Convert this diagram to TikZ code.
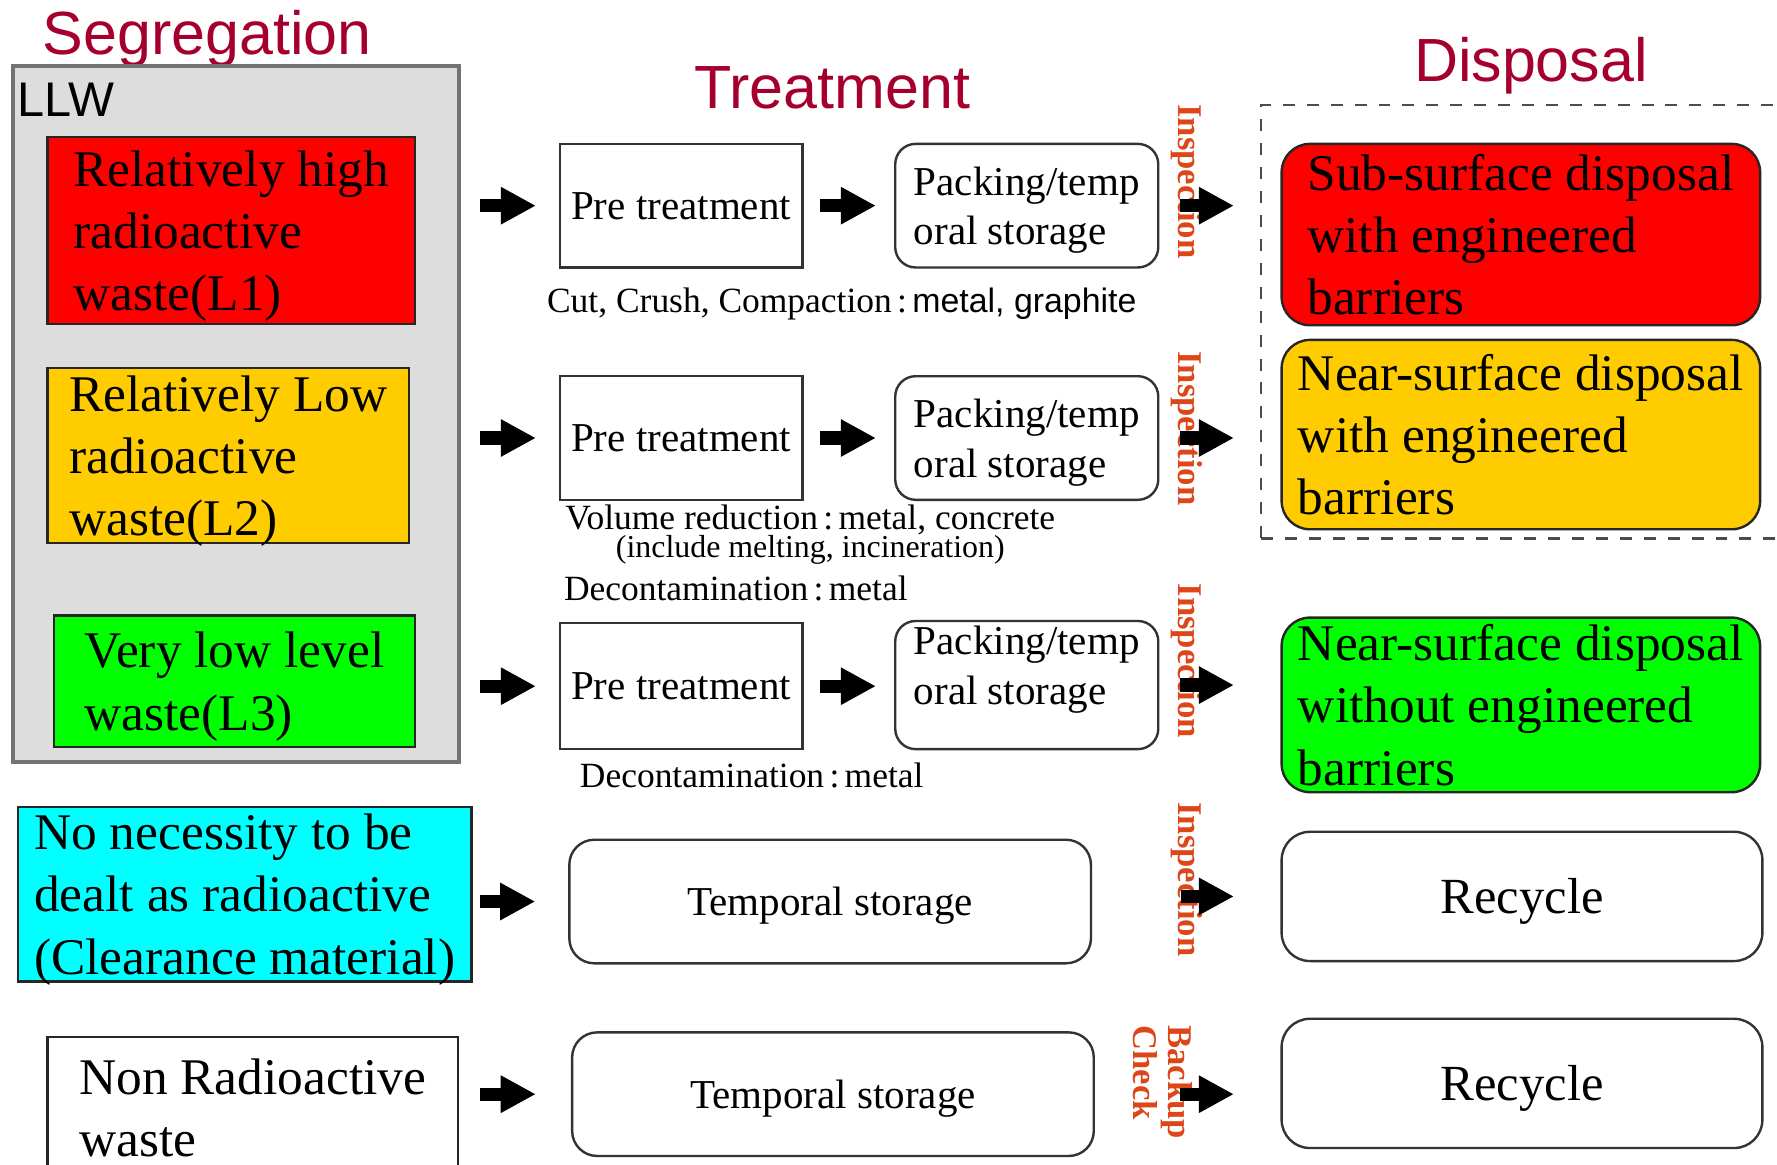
\documentclass[tikz,border=0pt]{standalone}
\usepackage{fontspec}
\setmainfont{Liberation Serif}
\setsansfont{Liberation Sans}
\usetikzlibrary{arrows.meta}

\definecolor{titlered}{RGB}{165,0,45}
\definecolor{inspred}{RGB}{220,70,25}
\definecolor{l1red}{RGB}{255,0,0}
\definecolor{l2yellow}{RGB}{255,204,0}
\definecolor{l3green}{RGB}{0,255,0}
\definecolor{clearcyan}{RGB}{0,255,255}
\definecolor{llwgray}{RGB}{221,221,221}
\newcommand{\jcol}{\hspace{0.15em}:\hspace{0.15em}}

\begin{document}
\begin{tikzpicture}[x=0.01cm,y=-0.01cm,
  title/.style={font=\sffamily\fontsize{15.3}{18}\selectfont,text=titlered,inner sep=0pt,anchor=base west},
  waste/.style={draw=black!85,line width=0.6pt,align=left,inner sep=0pt,text depth=0pt,font=\fontsize{12.9}{15.6}\selectfont},
  dispo/.style={waste,rounded corners=0.25cm,minimum width=4.22cm},
  pretreat/.style={draw=black!80,line width=0.6pt,inner sep=0pt,text depth=0pt,minimum width=2.14cm,minimum height=1.09cm,font=\fontsize{10.3}{12.5}\selectfont},
  packing/.style={pretreat,rounded corners=0.18cm,minimum width=2.32cm,align=left},
  tempst/.style={pretreat,rounded corners=0.22cm,minimum width=4.6cm},
  recyc/.style={pretreat,rounded corners=0.25cm,minimum width=4.24cm,minimum height=1.14cm,font=\fontsize{12.7}{15}\selectfont},
  note/.style={inner sep=0pt,font=\fontsize{8.9}{10}\selectfont},
  insp/.style={rotate=-90,inner sep=0pt,text=inspred,font=\bfseries\fontsize{8.7}{8.8}\selectfont},
  flow/.style={line width=3.3pt,-{Triangle[length=8.8pt,width=8.8pt]}}]
\useasboundingbox (0,0) rectangle (1568,1028);

% titles
\node[title] (segtitle) at (37,48) {Segregation};
\node[title] (treattitle) at (612,96) {Treatment};
\node[title] (disptitle) at (1247,72) {Disposal};

% segregation
\node[draw=black!55,line width=1pt,fill=llwgray,minimum width=3.93cm,minimum height=6.14cm] (llw) at (208.5,365) {};
\node[anchor=base west,inner sep=0pt,font=\sffamily\fontsize{12.2}{14}\selectfont] (llwtext) at (15,103) {LLW};
\node[waste,fill=l1red,minimum width=3.24cm,minimum height=1.65cm] (l1) at (204,203.5) {Relatively high\\radioactive\\waste(L1)};
\node[waste,fill=l2yellow,minimum width=3.19cm,minimum height=1.54cm] (l2) at (201.5,402) {Relatively Low\\radioactive\\waste(L2)};
\node[waste,fill=l3green,minimum width=3.18cm,minimum height=1.16cm] (l3) at (207,601) {Very low level\\waste(L3)};
\node[waste,fill=clearcyan,minimum width=4cm,minimum height=1.54cm] (clear) at (216,789) {No necessity to be\\dealt as radioactive\\(Clearance material)};
\node[waste,fill=white,minimum width=3.62cm,minimum height=1.25cm] (nonrad) at (223,977.5) {Non Radioactive\\waste};

% treatment
\node[pretreat] (pre1) at (601,181.5) {Pre treatment};
\node[pretreat] (pre2) at (601,386.5) {Pre treatment};
\node[pretreat,minimum height=1.11cm] (pre3) at (601,605.5) {Pre treatment};
\node[packing] (pack1) at (906,181.5) {Packing/temp\\oral storage};
\node[packing] (pack2) at (906,386.5) {Packing/temp\\oral storage};
\node[packing,minimum height=1.13cm] (pack3) at (906,604.5) {};
\node[inner sep=0pt,align=left,font=\fontsize{10.3}{12.5}\selectfont] (pack3text) at (906,591) {Packing/temp\\oral storage};
\node[tempst] (temp1) at (732.5,795.5) {Temporal storage};
\node[tempst] (temp2) at (735,965.5) {Temporal storage};

\node[note,anchor=base west] (cutnote) at (482,276) {Cut, Crush, Compaction\jcol{\sffamily\fontsize{8.5}{10}\selectfont metal, graphite}};
\node[note,anchor=base] (volnote) at (715,467) {Volume reduction\jcol metal, concrete};
\node[note,anchor=base,font=\fontsize{8}{9}\selectfont] (inclnote) at (715,492) {(include melting, incineration)};
\node[note,anchor=base west] (decon1) at (497,530) {Decontamination\jcol metal};
\node[note,anchor=base west] (decon2) at (511,695) {Decontamination\jcol metal};

% disposal
\node[draw=black!70,dashed,line width=0.6pt,minimum width=4.67cm,minimum height=3.82cm] (dispgroup) at (1346.5,284) {};
\node[dispo,fill=l1red,minimum height=1.6cm] (disp1) at (1342,207) {Sub-surface disposal\\with engineered\\barriers};
\node[dispo,fill=l2yellow,minimum height=1.67cm] (disp2) at (1342,383.5) {Near-surface disposal\\with engineered\\barriers};
\node[dispo,fill=l3green,minimum height=1.54cm] (disp3) at (1342,622) {Near-surface disposal\\without engineered\\barriers};
\node[recyc] (rec1) at (1343,791) {Recycle};
\node[recyc] (rec2) at (1343,956) {Recycle};

% checks
\node[insp] (insp1) at (1047,160) {Inspection};
\node[insp] (insp2) at (1047,378) {Inspection};
\node[insp] (insp3) at (1047,583) {Inspection};
\node[insp] (insp4) at (1047,776) {Inspection};
\node[insp,align=left] (backup) at (1026,955) {Backup\\Check};

% arrows
\draw[flow,shorten <=0.17cm,shorten >=0.2cm] (llw.east |- pre1) -- (pre1.west);
\draw[flow,shorten <=0.17cm,shorten >=0.2cm] (llw.east |- pre2) -- (pre2.west);
\draw[flow,shorten <=0.17cm,shorten >=0.2cm] (llw.east |- pre3) -- (pre3.west);
\draw[flow,shorten <=0.06cm,shorten >=0.29cm] (clear.east |- temp1) -- (temp1.west);
\draw[flow,shorten <=0.18cm,shorten >=0.31cm] (nonrad.east |- temp2) -- (temp2.west);
\draw[flow,shorten <=0.14cm,shorten >=0.16cm] (pre1.east) -- (pack1.west);
\draw[flow,shorten <=0.14cm,shorten >=0.16cm] (pre2.east) -- (pack2.west);
\draw[flow,shorten <=0.14cm,shorten >=0.16cm] (pre3.east) -- (pre3.east -| pack3.west);
\draw[flow,shorten <=0.18cm,shorten >=0.41cm] (pack1.east) -- (pack1.east -| disp1.west);
\draw[flow,shorten <=0.18cm,shorten >=0.41cm] (pack2.east) -- (pack2.east -| disp2.west);
\draw[flow,shorten <=0.18cm,shorten >=0.41cm] (pack3.east) -- (pack3.east -| disp3.west);
\draw[flow,shorten <=0.78cm,shorten >=0.41cm] (temp1.east |- rec1) -- (rec1.west);
\draw[flow,shorten <=0.75cm,shorten >=0.41cm] (temp2.east) -- (temp2.east -| rec2.west);
\end{tikzpicture}
\end{document}
